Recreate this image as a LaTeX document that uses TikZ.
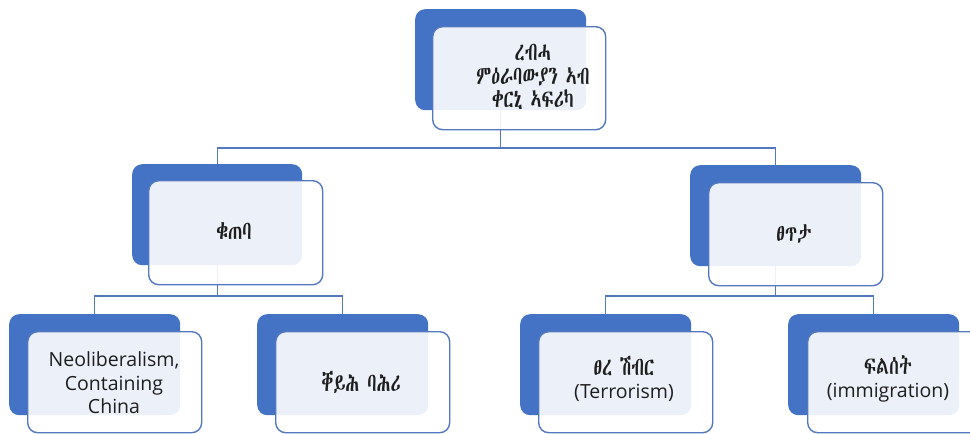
\documentclass[tikz,border=0pt]{standalone}
\usepackage{fontspec}
\setmainfont{Open Sans}
\IfFontExistsTF{Abyssinica SIL}{\newfontfamily\eth[Scale=1.32,FakeStretch=0.68]{Abyssinica SIL}}{%
 \IfFontExistsTF{Noto Sans Ethiopic}{\newfontfamily\eth[Scale=1.32,FakeStretch=0.68]{Noto Sans Ethiopic}}{%
  \IfFontExistsTF{FreeSerif}{\newfontfamily\eth[Scale=1.32,FakeStretch=0.68]{FreeSerif}}{\newfontfamily\eth[Scale=1.32,FakeStretch=0.68]{Noto Sans}}}}
\pgfdeclarelayer{bg}
\pgfsetlayers{bg,main}
\definecolor{myblue}{HTML}{4472C4}
\definecolor{linkblue}{HTML}{5478BD}
\definecolor{txtc}{HTML}{1E1E1E}
\begin{document}
\begin{tikzpicture}[x=1pt,y=-1pt,
  backbox/.style={fill=myblue, rounded corners=10pt, inner sep=0pt, anchor=north west, minimum width=171pt, minimum height=101pt},
  frontbox/.style={draw=linkblue, line width=1.4pt, fill=white, fill opacity=0.9, rounded corners=10pt, inner sep=0pt, anchor=north west, minimum width=174pt, minimum height=101pt},
  txt/.style={align=center, text=txtc, font=\fontsize{19.5}{23.5}\selectfont, inner sep=0pt},
  conn/.style={draw=linkblue, line width=1.3pt}]
\useasboundingbox (0,0) rectangle (970,434);
% top
\node[backbox] (tb) at (415,9) {};
\node[frontbox, minimum width=173pt, minimum height=103pt] (tf) at (432,26) {};
\node[txt] (tt) at (533,77) {\eth ረብሓ\\\eth ምዕራባውያን ኣብ\\\eth ቀርኒ ኣፍሪካ};
% middle left
\node[backbox, minimum width=170pt] (lb) at (132,164) {};
\node[frontbox, minimum height=104pt] (lf) at (148,180) {};
\node[txt] (lt) at (234,231) {\eth ቁጠባ};
% middle right
\node[backbox] (rb) at (690,165) {};
\node[frontbox, minimum height=103pt] (rf) at (708,182) {};
\node[txt] (rt) at (794,234) {\eth ፀጥታ};
% bottom row
\node[backbox] (b1) at (9,314) {};
\node[frontbox] (f1) at (27,331) {};
\node[txt] (t1) at (114,383) {Neoliberalism,\\Containing\\China};
\node[backbox] (b2) at (257,314) {};
\node[frontbox] (f2) at (275,331) {};
\node[txt] (t2) at (361,382) {\eth ቐይሕ ባሕሪ};
\node[backbox] (b3) at (520,314) {};
\node[frontbox] (f3) at (538,331) {};
\node[txt] (t3) at (624,379) {\eth ፀረ ሽብር\\(Terrorism)};
\node[backbox] (b4) at (788,314) {};
\node[frontbox] (f4) at (807,331) {};
\node[txt] (t4) at (888,379) {\eth ፍልሰት\\(immigration)};
% connectors
\coordinate (bus1) at (500,148);
\coordinate (bus2) at (217,296);
\coordinate (bus3) at (775,296);
\begin{pgfonlayer}{bg}
\fill[white] (0,0) rectangle (970,434);
\draw[conn] (tb.center) -- (tb.center |- bus1) -| (lb.north);
\draw[conn] (tb.center |- bus1) -| (rb.north);
\draw[conn] (lb.center) -- (lb.center |- bus2) -| (b1.north);
\draw[conn] (lb.center |- bus2) -| (b2.north);
\draw[conn] (rb.center) -- (rb.center |- bus3) -| (b3.north);
\draw[conn] (rb.center |- bus3) -| (b4.north);
\end{pgfonlayer}
\end{tikzpicture}
\end{document}
